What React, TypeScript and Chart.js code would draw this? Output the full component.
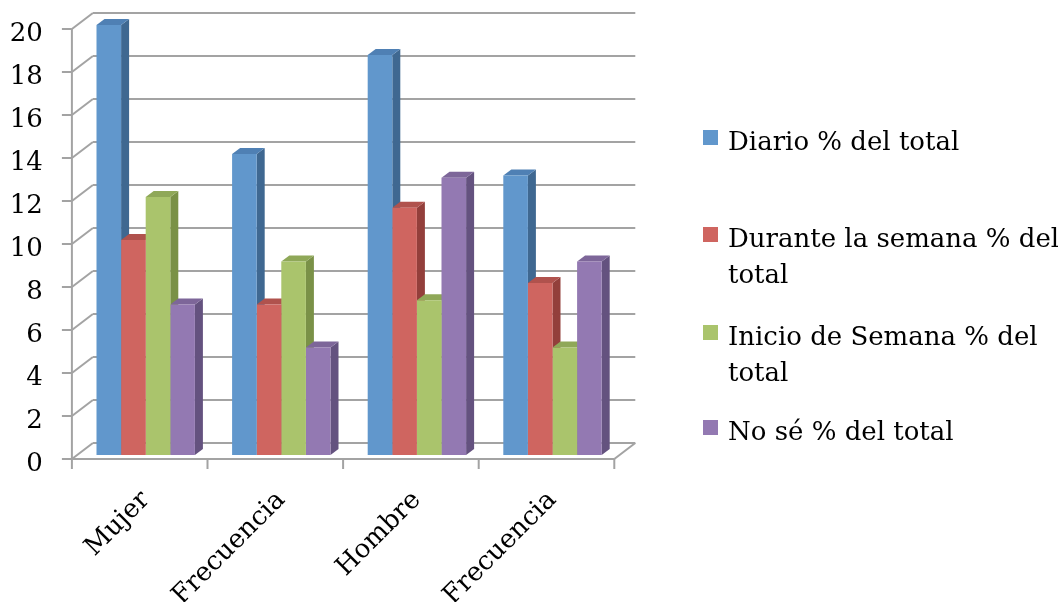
import React, { useEffect, useRef } from "react";
import { Chart, registerables } from "chart.js";

Chart.register(...registerables);

// ---------- data ----------
const categories = ["Mujer", "Frecuencia", "Hombre", "Frecuencia"];
const seriesNames = [
  "Diario % del total",
  "Durante la semana % del total",
  "Inicio de Semana % del total",
  "No sé % del total",
];
const diario = [20, 14, 18.6, 13];
const duranteSemana = [10, 7, 11.5, 8];
const inicioSemana = [12, 9, 7.2, 5];
const noSe = [7, 5, 12.9, 9];
const yTickValues = [0, 2, 4, 6, 8, 10, 12, 14, 16, 18, 20];

// ---------- styles ----------
const FONT = "'DejaVu Serif', 'Liberation Serif', serif";
const FONT_SIZE = 26;
const frontColors = ["#6197CC", "#CF6560", "#AAC46C", "#9379B2"];
const sideColors = ["#3F6891", "#933F3B", "#7A9147", "#64527F"];
const topColors = ["#4F80B4", "#B0524D", "#8FA858", "#7D6699"];
const GRID = "#a3a3a3";

const FRONT = { dx: -6, dy: 4 };
const BACK = { dx: 15, dy: -12 };
const DEPTH = { dx: 8, dy: -6 };

const line = (ctx: CanvasRenderingContext2D, x1: number, y1: number, x2: number, y2: number) => {
  ctx.beginPath();
  ctx.moveTo(x1, y1);
  ctx.lineTo(x2, y2);
  ctx.stroke();
};

const poly = (ctx: CanvasRenderingContext2D, pts: number[][], color: string) => {
  ctx.beginPath();
  ctx.moveTo(pts[0][0], pts[0][1]);
  for (let i = 1; i < pts.length; i++) ctx.lineTo(pts[i][0], pts[i][1]);
  ctx.closePath();
  ctx.fillStyle = color;
  ctx.fill();
};

const zeroPadding = (s: any) => {
  s.paddingTop = 0;
  s.paddingBottom = 0;
  s.paddingLeft = 0;
  s.paddingRight = 0;
};

const threeDPlugin = {
  id: "threeD",
  beforeDatasetsDraw(chart: any) {
    const ctx: CanvasRenderingContext2D = chart.ctx;
    const ys = chart.scales.y;
    const xs = chart.scales.x;
    const area = chart.chartArea;
    ctx.save();
    ctx.strokeStyle = GRID;
    ctx.lineWidth = 2;
    ctx.lineCap = "butt";
    const fl = area.left + FRONT.dx;
    const fr = area.right + FRONT.dx;
    const bl = area.left + BACK.dx;
    const br = area.right + BACK.dx;
    const y0 = ys.getPixelForValue(0);
    const yMax = ys.getPixelForValue(ys.max);
    ys.ticks.forEach((t: any) => {
      const py = ys.getPixelForValue(t.value);
      line(ctx, bl, py + BACK.dy, br, py + BACK.dy);
      line(ctx, fl, py + FRONT.dy, bl, py + BACK.dy);
      line(ctx, fl - 10, py + FRONT.dy, fl, py + FRONT.dy);
    });
    line(ctx, fl, yMax + FRONT.dy, fl, y0 + FRONT.dy);
    line(ctx, fl, y0 + FRONT.dy, fr, y0 + FRONT.dy);
    line(ctx, fr, y0 + FRONT.dy, br, y0 + BACK.dy);
    const n = categories.length;
    const half = (xs.getPixelForValue(1) - xs.getPixelForValue(0)) / 2;
    for (let i = 0; i <= n; i++) {
      const bx = (i < n ? xs.getPixelForValue(i) - half : xs.getPixelForValue(n - 1) + half) + FRONT.dx;
      line(ctx, bx, y0 + FRONT.dy, bx, y0 + FRONT.dy + 10);
    }
    // 3D faces of the bars (side + top), drawn behind the front faces
    for (let i = 0; i < n; i++) {
      chart.data.datasets.forEach((_ds: any, di: number) => {
        const meta = chart.getDatasetMeta(di);
        const el = meta.data[i];
        if (!el) return;
        const { x, y, base, width } = el.getProps(["x", "y", "base", "width"], true);
        const l = x - width / 2;
        const r = x + width / 2;
        poly(ctx, [[r, y], [r + DEPTH.dx, y + DEPTH.dy], [r + DEPTH.dx, base + DEPTH.dy], [r, base]], sideColors[di]);
        poly(ctx, [[l, y], [l + DEPTH.dx, y + DEPTH.dy], [r + DEPTH.dx, y + DEPTH.dy], [r, y]], topColors[di]);
      });
    }
    ctx.restore();
  },
  afterDraw(chart: any) {
    const ctx: CanvasRenderingContext2D = chart.ctx;
    ctx.save();
    ctx.font = `${FONT_SIZE}px ${FONT}`;
    ctx.textBaseline = "alphabetic";
    ctx.textAlign = "left";
    const textX = 728;
    const maxW = 336;
    const firstBaselines = [150, 247, 345, 440];
    const lineH = 36;
    chart.data.datasets.forEach((ds: any, di: number) => {
      const words = String(ds.label).split(" ");
      const lines: string[] = [];
      let cur = "";
      words.forEach((w) => {
        const test = cur ? cur + " " + w : w;
        if (ctx.measureText(test).width > maxW && cur) {
          lines.push(cur);
          cur = w;
        } else cur = test;
      });
      if (cur) lines.push(cur);
      const by = firstBaselines[di];
      ctx.fillStyle = frontColors[di];
      ctx.fillRect(703, by - 20, 15, 15);
      ctx.fillStyle = "#000";
      lines.forEach((ln, li) => ctx.fillText(ln, textX, by + li * lineH));
    });
    ctx.restore();
  },
};

export default function App() {
  const ref = useRef<HTMLCanvasElement | null>(null);
  useEffect(() => {
    if (!ref.current) return;
    const series = [diario, duranteSemana, inicioSemana, noSe];
    const chart = new Chart(ref.current, {
      type: "bar",
      data: {
        labels: categories,
        datasets: series.map((d, i) => ({
          label: seriesNames[i],
          data: d,
          backgroundColor: frontColors[i],
          borderWidth: 0,
          barPercentage: 1,
          categoryPercentage: 0.7257,
        })),
      },
      options: {
        animation: false,
        responsive: false,
        devicePixelRatio: 1,
        layout: { padding: { left: 0, top: 25, right: 1058 - 620.3, bottom: 0 } },
        plugins: { legend: { display: false }, tooltip: { enabled: false } },
        scales: {
          x: {
            grid: { display: false, drawTicks: false },
            border: { display: false },
            ticks: {
              autoSkip: false,
              maxRotation: 45,
              minRotation: 45,
              padding: 30,
              color: "#000",
              font: { family: FONT, size: FONT_SIZE },
            },
            afterFit: (s: any) => {
              s.height = 602 - 455;
              zeroPadding(s);
            },
          },
          y: {
            min: 0,
            max: 20,
            grid: { display: false, drawTicks: false },
            border: { display: false },
            afterBuildTicks: (s: any) => {
              s.ticks = yTickValues.map((v) => ({ value: v }));
            },
            ticks: {
              padding: 35,
              labelOffset: 9,
              color: "#000",
              font: { family: FONT, size: FONT_SIZE },
            },
            afterFit: (s: any) => {
              s.width = 77.9;
              zeroPadding(s);
            },
          },
        },
      },
      plugins: [threeDPlugin],
    });
    return () => chart.destroy();
  }, []);
  return (
    <div style={{ position: "fixed", left: 0, top: 0, width: 1058, height: 602, background: "#fff" }}>
      <canvas ref={ref} width={1058} height={602} />
    </div>
  );
}
